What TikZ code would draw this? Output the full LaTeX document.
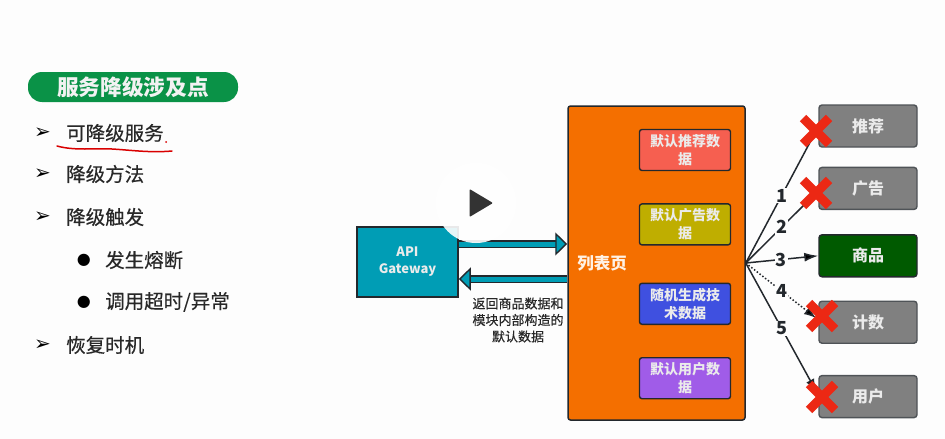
\documentclass[tikz,border=0pt]{standalone}
\usepackage{fontspec}
\setmainfont{Noto Sans CJK SC}
\newfontfamily\symfont{DejaVu Sans}
\newfontfamily\heavyfont[FakeBold=0.35]{Noto Sans CJK SC}
\usepackage{xcolor}
\usepackage{tikz}
\usetikzlibrary{arrows.meta,shapes.misc,positioning}
\definecolor{pagebg}{RGB}{253,253,253}
\definecolor{pillgreen}{RGB}{10,146,71}
\definecolor{listorg}{RGB}{244,111,0}
\definecolor{gateteal}{RGB}{0,157,181}
\definecolor{edgedark}{RGB}{35,40,45}
\definecolor{defred}{RGB}{246,95,80}
\definecolor{defolive}{RGB}{191,174,0}
\definecolor{defblue}{RGB}{63,80,224}
\definecolor{defpurple}{RGB}{160,92,232}
\definecolor{svcgrey}{RGB}{128,128,128}
\definecolor{svcgreen}{RGB}{0,90,0}
\definecolor{crossred}{RGB}{236,40,20}
\definecolor{inktext}{RGB}{40,40,40}

\begin{document}
\begin{tikzpicture}[x=1pt,y=-1pt,
  listitem/.style={anchor=west,inner sep=0pt,text=inktext,font=\heavyfont\fontsize{19.5}{24}\selectfont},
  listmark/.style={inner sep=0pt,text=black,font=\symfont\fontsize{20}{20}\selectfont},
  defbox/.style={draw=edgedark,line width=1.4pt,rounded corners=2.5pt,minimum width=91pt,minimum height=41pt,inner sep=0pt,align=center,text=white!92!black,font=\fontsize{14}{18}\selectfont\bfseries},
  svcbox/.style={draw=edgedark!80,line width=1.4pt,rounded corners=3pt,minimum width=98pt,minimum height=42pt,inner sep=0pt,fill=svcgrey,text=white!92!black,font=\fontsize{16}{20}\selectfont\bfseries},
  redx/.style={cross out,draw=crossred,line width=9pt,minimum size=17pt,inner sep=0pt},
  wideline/.style={draw=edgedark,double=gateteal,line width=1.4pt,double distance=5pt,-{Triangle[length=12pt,width=23pt,fill=gateteal]}},
  spoke/.style={draw=edgedark,line width=1.5pt},
  numlab/.style={fill=pagebg,inner sep=1pt,text=edgedark,font=\fontsize{18}{20}\selectfont\bfseries}
]
\useasboundingbox[fill=pagebg] (0,0) rectangle (945,439);

% left list
\node[fill=pillgreen,rounded corners=14pt,minimum width=210pt,minimum height=30pt,inner sep=0pt,text=white!95!black,font=\fontsize{21.7}{24}\selectfont\bfseries] (Title) at (133,87) {服务降级涉及点};
\node[listitem] (L1) at (66,133) {可降级服务};
\node[listitem] (L2) at (66,174) {降级方法};
\node[listitem] (L3) at (66,217) {降级触发};
\node[listitem] (L4) at (105,260) {发生熔断};
\node[listitem] (L5) at (105,302) {调用超时/异常};
\node[listitem] (L6) at (66,345) {恢复时机};
\foreach \a in {1,2,3,6}{
\node[listmark,left=15pt of L\a] (M\a) {➢};
}
\foreach \a in {4,5}{
\node[listmark,left=14pt of L\a,font=\symfont\fontsize{16}{20}\selectfont] (M\a) {●};
}
\draw[red!85!black,line width=1.5pt,line cap=round] (57,146) .. controls (75,151) and (95,148) .. (112,149) .. controls (130,150) and (150,153) .. (172,151);
\fill[red!85!black] (166,142) circle (1pt);

% middle
\node[draw=edgedark,line width=1.5pt,fill=gateteal,minimum width=101pt,minimum height=70pt,inner sep=0pt,align=center,text=white!92!black,font=\fontsize{13}{17}\selectfont\bfseries] (Gateway) at (407.5,262) {API\\Gateway};
\node[draw=edgedark,line width=1.5pt,fill=listorg,rounded corners=2.5pt,minimum width=177pt,minimum height=314pt,inner sep=0pt] (ListPage) at (656.5,263) {};
\node[text=white!90!orange,inner sep=0pt,font=\fontsize{16.5}{20}\selectfont\bfseries,right=10pt of ListPage.west] (ListName) {列表页};

\node[defbox,fill=defred] (DefRec) at (685,150) {默认推荐数\\据};
\node[defbox,fill=defolive,below=32pt of DefRec] (DefAd) {默认广告数\\据};
\node[defbox,fill=defblue,below=37pt of DefAd] (DefTech) {随机生成技\\术数据};
\node[defbox,fill=defpurple,below=32pt of DefTech] (DefUser) {默认用户数\\据};

\draw[wideline] ([yshift=18pt]Gateway.east) -- ([yshift=18pt]Gateway.east -| ListPage.west);
\draw[wideline] ([yshift=-17pt]Gateway.east -| ListPage.west) -- ([yshift=-17pt]Gateway.east);
\node[inner sep=0pt,align=center,text=inktext,font=\heavyfont\fontsize{13}{16.5}\selectfont] (BackNote) at (518,320) {返回商品数据和\\模块内部构造的\\默认数据};

% right column
\node[svcbox] (SvcRec) at (868,126) {推荐};
\node[svcbox,below=19pt of SvcRec] (SvcAd) {广告};
\node[svcbox,fill=svcgreen,draw=edgedark,below=24pt of SvcAd] (SvcGoods) {商品};
\node[svcbox,below=23pt of SvcGoods] (SvcCount) {计数};
\node[svcbox,below=31pt of SvcCount] (SvcUser) {用户};

\coordinate (X1) at (816,131);
\coordinate (X2) at (816,193);
\coordinate (X4) at (822,316);
\coordinate (X5) at (822,397);
\coordinate (E4) at (816,318);
\coordinate (E5) at (816,391);

\path[spoke]
(ListPage.east) edge node[numlab,pos=.51] {1} (X1)
(ListPage.east) edge node[numlab,pos=.51] {2} (X2)
(ListPage.east) edge[-{Latex[length=14pt,width=9pt]}] node[numlab,pos=.49] {3} (SvcGoods.west)
(ListPage.east) edge[dotted,-{Latex[length=12pt,width=9pt]}] node[numlab,pos=.51] {4} (E4)
(ListPage.east) edge[-{Latex[length=12pt,width=9pt]}] node[numlab,pos=.51] {5} (E5);

\foreach \a in {1,2,4,5}{
\node[redx] (Cross\a) at (X\a) {};
}

% play button
\node[circle,fill=white,fill opacity=.9,minimum size=80pt,inner sep=0pt] (PlayDisc) at (476,203) {};
\fill[rounded corners=1pt,black!80] (469.5,189) -- (493,203) -- (469.5,217) -- cycle;
\end{tikzpicture}
\end{document}
